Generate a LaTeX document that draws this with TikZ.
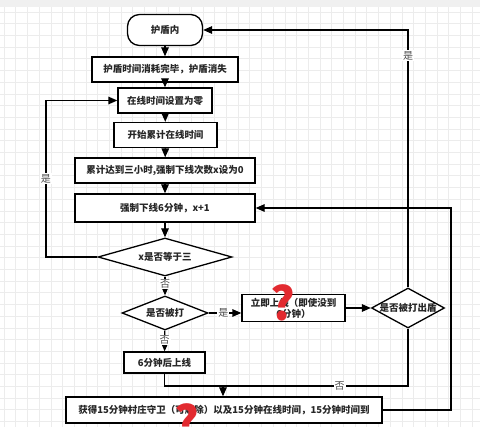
\documentclass[tikz,border=0pt]{standalone}
\usepackage{fontspec}
\setmainfont{Noto Sans CJK SC}
\usetikzlibrary{shapes.geometric,arrows.meta}
\definecolor{gridc}{RGB}{236,236,236}
\definecolor{qred}{RGB}{226,42,48}
\tikzset{
  every node/.style={font=\fontsize{9.5}{11}\selectfont\bfseries, text=black!85},
  box/.style={draw, line width=1.3pt, rectangle, inner sep=0pt, fill=white},
  term/.style={box, rounded corners=12pt},
  dia/.style={draw, line width=1.3pt, diamond, inner sep=0pt, fill=white},
  conn/.style={line width=1.3pt, -{Triangle[length=9pt,width=7.5pt]}},
  plain/.style={line width=1.3pt},
  lab/.style={fill=white, inner sep=1pt, text=black!70, font=\fontsize{10}{11}\selectfont},
  qmark/.style={text=qred, font=\fontsize{46}{46}\selectfont\bfseries, inner sep=0pt},
  gridline/.style={gridc, line width=0.6pt}
}
\begin{document}
\begin{tikzpicture}[x=1pt,y=-1pt]
\useasboundingbox (0,0) rectangle (480,427);
\fill[white] (0,0) rectangle (480,427);
\foreach \gx in {4,15.7,...,480} \draw[gridline] (\gx,0) -- (\gx,427);
\foreach \gy in {12,23.7,...,427} \draw[gridline] (0,\gy) -- (480,\gy);
\fill[black!6] (0,0) rectangle (480,7);

\node[term, minimum width=75pt, minimum height=31pt] (a) at (165,30) {护盾内};
\node[box, minimum width=146pt, minimum height=25pt] (b) at (165,69.5) {护盾时间消耗完毕，护盾消失};
\node[box, minimum width=94pt, minimum height=25pt] (c) at (165,100.5) {在线时间设置为零};
\node[box, minimum width=103pt, minimum height=25pt] (d) at (165.5,135) {开始累计在线时间};
\node[box, minimum width=180pt, minimum height=25pt] (e) at (165,170.5) {累计达到三小时,强制下线次数x设为0};
\node[box, minimum width=180pt, minimum height=28pt] (f) at (165,208) {强制下线6分钟，x+1};
\node[dia, minimum width=134pt, minimum height=38pt, label=center:{x是否等于三}] (g) at (165,257) {};
\node[dia, minimum width=86pt, minimum height=34pt, label=center:{是否被打}] (h) at (165,313) {};
\node[box, minimum width=103pt, minimum height=27pt, align=center] (i) at (293.5,308) {立即上线（即使没到\\6分钟）};
\node[dia, minimum width=73pt, minimum height=40pt, label=center:{是否被打出盾}] (j) at (408,308) {};
\node[box, minimum width=81pt, minimum height=21pt] (k) at (164.5,362.5) {6分钟后上线};
\node[box, minimum width=316pt, minimum height=26pt] (l) at (224,410) {获得15分钟村庄守卫（可解除）以及15分钟在线时间，15分钟时间到};

\coordinate (gl) at (46,257);
\coordinate (cl) at (46,100.5);
\coordinate (jt) at (408,30);
\coordinate (jb) at (408,386);
\coordinate (mj) at (223,386);
\coordinate (lr) at (451,410);
\coordinate (fr) at (451,208);

\draw[conn] (a) -- (b);
\draw[conn] (b) -- (c);
\draw[conn] (c) -- (d);
\draw[conn] (d) -- (e);
\draw[conn] (e) -- (f);
\draw[conn] (f) -- (g);
\draw[conn] (g) -- node[lab, pos=0.4] {否} (h);
\draw[conn] (h) -- node[lab, pos=0.45] {否} (k);
\draw[conn] (h.east) -- node[lab, pos=0.45] {是} (h.east -| i.west);
\draw[conn] (i) -- (j);
\draw[conn] (g.west) -- (gl) -- node[lab] {是} (cl) -- (c.west);
\draw[conn] (j.north) -- node[lab, pos=0.9] {是} (jt) -- (a.east);
\draw[plain] (j.south) -- (jb) -- node[lab, pos=0.37] {否} (mj);
\draw[plain] (k.south) |- (mj);
\draw[conn] (mj) -- (mj |- l.north);
\draw[conn] (l.east) -- (lr) -- (fr) -- (f.east);

\node[qmark] (q1) at (283,303) {?};
\node[qmark] (q2) at (187,422) {?};
\end{tikzpicture}
\end{document}
